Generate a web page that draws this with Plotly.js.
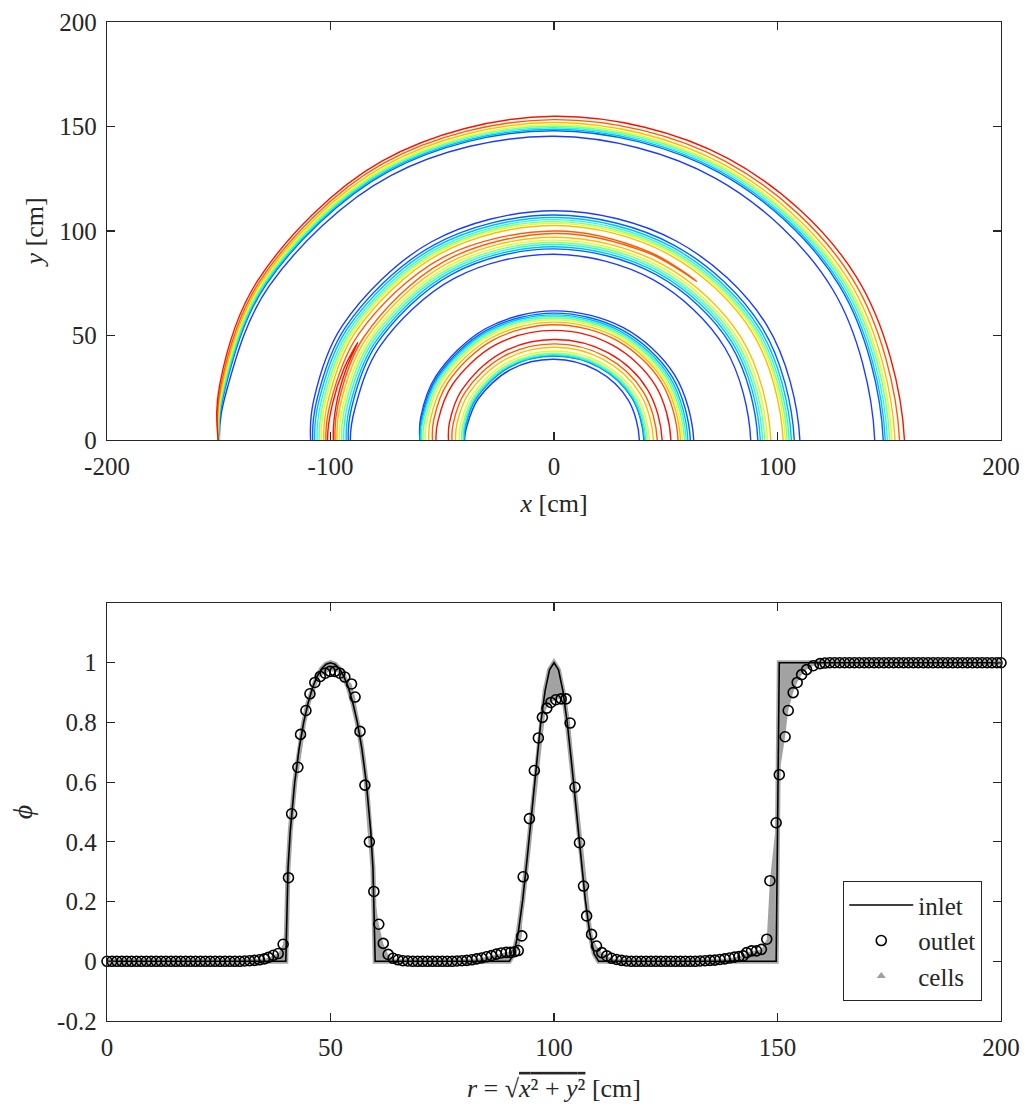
<!DOCTYPE html>
<html>
<head>
<meta charset="utf-8">
<script src="https://cdn.plot.ly/plotly-3.0.1.min.js"></script>
<style>html,body{margin:0;padding:0;background:#fff;}</style>
</head>
<body>
<div id="chart" style="width:1032px;height:1114px;"></div>
<script>
// ---------- top panel: contour lines phi(x,y) (radii in cm at the listed angles) ----------
const ringAngles = [0, 30, 60, 90, 120, 150, 170, 180];
const contourLevels = [0.03, 0.1, 0.2, 0.35, 0.5, 0.65, 0.8, 0.9, 0.96];
const levelColors = ['#1a3cff', '#0062ff', '#00bcff', '#1fffe0', '#80ff80', '#e0ff1f', '#ffbd00', '#ff5c00', '#fa1400'];

const ring1Inner = [
  [38.2, 38.3, 38.4, 38.6, 38.9, 39.2, 39.5, 40.0],
  [40.2, 40.2, 40.2, 40.15, 40.15, 40.1, 40.1, 40.05],
  [40.5, 40.45, 40.45, 40.4, 40.35, 40.3, 40.25, 40.2],
  [41.0, 40.97, 40.93, 40.9, 40.84, 40.78, 40.72, 40.63],
  [41.6, 41.58, 41.55, 41.52, 41.49, 41.45, 41.4, 41.34],
  [42.7, 42.67, 42.64, 42.6, 42.57, 42.52, 42.48, 42.4],
  [44.5, 44.45, 44.4, 44.35, 44.3, 44.2, 44.1, 44.0],
  [46.2, 46.15, 46.1, 46.0, 45.96, 45.87, 45.78, 45.64],
  [48.4, 48.3, 48.2, 48.05, 47.9, 47.7, 47.5, 47.2]
];
const ring1Outer = [
  [62.5, 62.3, 62.05, 61.8, 61.45, 61.0, 60.6, 60.0],
  [61.0, 60.9, 60.8, 60.7, 60.56, 60.38, 60.2, 59.95],
  [59.9, 59.9, 59.88, 59.87, 59.86, 59.84, 59.82, 59.8],
  [59.1, 59.12, 59.15, 59.18, 59.21, 59.26, 59.3, 59.37],
  [58.3, 58.33, 58.37, 58.4, 58.45, 58.5, 58.57, 58.66],
  [57.4, 57.42, 57.44, 57.46, 57.48, 57.52, 57.55, 57.6],
  [56.6, 56.55, 56.5, 56.4, 56.35, 56.25, 56.15, 56.0],
  [55.5, 55.4, 55.3, 55.17, 55.0, 54.83, 54.65, 54.36],
  [52.3, 52.35, 52.4, 52.45, 52.5, 52.6, 52.7, 52.8]
];
const ring2Inner = [
  [88.0, 88.27, 88.57, 88.9, 89.3, 89.85, 90.3, 91.1],
  [91.2, 91.27, 91.36, 91.45, 91.56, 91.7, 91.84, 92.05],
  [92.3, 92.36, 92.42, 92.49, 92.57, 92.68, 92.79, 92.95],
  [93.3, 93.36, 93.43, 93.51, 93.61, 93.73, 93.85, 94.03],
  [94.3, 94.36, 94.43, 94.5, 94.6, 94.71, 94.83, 95.0],
  [95.5, 95.54, 95.59, 95.64, 95.7, 95.78, 95.85, 95.97],
  [97.0, 97.0, 97.01, 97.01, 97.02, 97.03, 97.04, 97.05]
];
const ring2Outer = [
  [110.0, 109.9, 109.8, 109.68, 109.53, 109.35, 109.18, 108.9],
  [107.5, 107.54, 107.58, 107.63, 107.69, 107.77, 107.84, 107.95],
  [106.2, 106.27, 106.36, 106.45, 106.56, 106.7, 106.84, 107.05],
  [105.2, 105.27, 105.34, 105.43, 105.53, 105.66, 105.78, 105.97],
  [104.3, 104.36, 104.43, 104.5, 104.6, 104.71, 104.83, 105.0],
  [103.5, 103.55, 103.6, 103.66, 103.72, 103.81, 103.9, 104.03],
  [102.5, 102.54, 102.58, 102.63, 102.69, 102.77, 102.84, 102.95]
];
// closed (hairpin) contours of the middle ring, levels 0.9 and 0.96
const ring2HairpinLevelIndex = [7, 8];
const ring2HairpinAngles = [
  [180, 170, 150, 120, 90, 65, 50, 65, 90, 120, 150, 170, 180],
  [180, 170, 160, 152, 160, 170, 180]
];
const ring2HairpinRadii = [
  [102.05, 101.6, 101.0, 100.5, 100.0, 99.6, 99.2, 98.9, 98.8, 98.6, 98.3, 98.1, 97.95],
  [101.28, 100.6, 100.0, 99.4, 99.0, 98.9, 98.72]
];
const ring3 = [
  [143.5, 144.0, 144.6, 145.3, 146.1, 147.2, 148.2, 149.7],
  [147.3, 147.5, 147.75, 148.0, 148.3, 148.75, 149.1, 149.75],
  [148.2, 148.3, 148.5, 148.7, 148.9, 149.15, 149.4, 149.8],
  [149.2, 149.25, 149.3, 149.4, 149.5, 149.6, 149.7, 149.9],
  [150.2, 150.2, 150.15, 150.15, 150.1, 150.1, 150.05, 150.0],
  [151.2, 151.1, 151.0, 150.9, 150.75, 150.55, 150.4, 150.1],
  [152.6, 152.4, 152.15, 151.9, 151.6, 151.2, 150.8, 150.2],
  [154.6, 154.2, 153.8, 153.3, 152.8, 152.0, 151.3, 150.25],
  [156.8, 156.2, 155.6, 154.9, 154.05, 152.95, 151.9, 150.3]
];

// ---------- bottom panel: phi versus r ----------
const inletR = [0, 40, 40.5, 41, 42, 43, 44, 45, 46, 47, 48, 49, 50, 51, 52, 53, 54, 55, 56, 57, 58, 59, 59.5, 60,
  90, 91, 92, 93, 94, 95, 96, 97, 98, 99, 100, 101, 102, 103, 104, 105, 106, 107, 108, 109, 110, 149.7, 150.4, 200];
const inletPhi = [0, 0, 0.312, 0.436, 0.6, 0.714, 0.8, 0.866, 0.917, 0.954, 0.98, 0.995, 1, 0.995, 0.98, 0.954, 0.917, 0.866, 0.8, 0.714, 0.6, 0.436, 0.312, 0,
  0, 0.025, 0.095, 0.206, 0.345, 0.5, 0.655, 0.794, 0.905, 0.976, 1, 0.976, 0.905, 0.794, 0.655, 0.5, 0.345, 0.206, 0.095, 0.025, 0, 0, 1, 1];

const outletR = [
  0, 1.1, 2.2, 3.3, 4.4, 5.5, 6.6, 7.7, 8.8, 9.9, 11, 12.1, 13.2, 14.3, 15.4, 16.5, 17.6, 18.7, 19.8, 20.9, 22, 23.1, 24.2, 25.3, 26.4, 27.5, 28.6, 29.7,
  30.8, 31.9, 33, 34.1, 35.2, 36.1, 37.2, 38.3, 39.4, 40.6, 41.3, 42.7, 43.3, 44.5, 45.4, 46.5, 47.7, 48.8, 49.9, 51, 52.1, 53.2, 54.7, 55.5, 56.6, 57.7, 58.7, 59.7, 60.8, 61.8, 62.9, 64, 65.1, 66.2, 67.3,
  68.4, 69.5, 70.6, 71.7, 72.8, 73.9, 75, 76.1, 77.2,
  78.3, 79.4, 80.5, 81.6, 82.7, 83.8, 84.9, 86, 87.1, 88.2, 89.3, 90.3, 91.2, 92, 92.8, 93.1, 94.5, 95.6, 96.5, 97.4, 98.4, 99.3, 100.4, 101.6, 102.7, 103.6, 104.7, 105.7, 106.6, 107.3, 108.4, 109.5, 110.7, 111.8, 112.9, 114, 115.1, 116.2,
  117.3, 118.4, 119.5, 120.6, 121.7, 122.8, 123.9, 125, 126.1, 127.2, 128.3, 129.4, 130.5, 131.6,
  132.7, 133.8, 134.9, 136, 137.1, 138.2, 139.3, 140.4, 141.4, 142.3, 143.1, 144.2, 145.3, 146.4, 147.6, 148.3, 149.7, 150.4, 151.7, 152.4, 153.5, 154.4, 155.4, 156.5, 158, 159.5, 160.6,
  161.7, 162.8, 163.9, 165, 166.1, 167.2, 168.3, 169.4, 170.5, 171.6, 172.7, 173.8, 174.9, 176, 177.1, 178.2, 179.3, 180.4, 181.5, 182.6, 183.7, 184.8, 185.9, 187, 188.1, 189.2, 190.3, 191.4, 192.5, 193.6, 194.7, 195.8, 196.9, 198, 199.1, 200
];
const outletPhi = [
  0, 0, 0, 0, 0, 0, 0, 0, 0, 0, 0, 0, 0, 0, 0, 0, 0, 0, 0, 0, 0, 0, 0, 0, 0, 0, 0, 0,
  0.001, 0.002, 0.003, 0.005, 0.008, 0.013, 0.02, 0.026, 0.057, 0.28, 0.494, 0.65, 0.76, 0.84, 0.896, 0.934, 0.954, 0.965, 0.971, 0.971, 0.965, 0.952, 0.929, 0.885, 0.77, 0.59, 0.40, 0.234, 0.124, 0.06, 0.023, 0.01, 0.005, 0.002, 0.001,
  0, 0, 0, 0, 0, 0, 0, 0, 0,
  0.001, 0.002, 0.003, 0.005, 0.008, 0.011, 0.015, 0.019, 0.024, 0.028, 0.03, 0.03, 0.032, 0.036, 0.085, 0.283, 0.478, 0.639, 0.748, 0.817, 0.848, 0.867, 0.876, 0.879, 0.879, 0.798, 0.583, 0.397, 0.252, 0.152, 0.09, 0.051, 0.029, 0.018, 0.01, 0.006, 0.003, 0.001,
  0, 0, 0, 0, 0, 0, 0, 0, 0, 0, 0, 0, 0, 0,
  0.001, 0.002, 0.003, 0.004, 0.006, 0.008, 0.011, 0.014, 0.016, 0.018, 0.029, 0.035, 0.035, 0.04, 0.074, 0.27, 0.464, 0.625, 0.752, 0.84, 0.90, 0.934, 0.96, 0.977, 0.99, 0.997, 0.999,
  1, 1, 1, 1, 1, 1, 1, 1, 1, 1, 1, 1, 1, 1, 1, 1, 1, 1, 1, 1, 1, 1, 1, 1, 1, 1, 1, 1, 1, 1, 1, 1, 1, 1, 1, 1
];

const topXTicks = [-200, -100, 0, 100, 200];
const topXTickText = ['-200', '-100', '0', '100', '200'];
const topYTicks = [0, 50, 100, 150, 200];
const botXTicks = [0, 50, 100, 150, 200];
const botYTicks = [-0.2, 0, 0.2, 0.4, 0.6, 0.8, 1];
const botYTickText = ['-0.2', '0', '0.2', '0.4', '0.6', '0.8', '1'];

// ---------- build traces ----------
const traces = [];
const deg = Math.PI / 180;
// each contour is continued straight through the x axis (clipped there) so that the spline meets y = 0 squarely
function arc(angles, radii, color) {
  const first = angles[0], last = angles[angles.length - 1];
  const a = [first < 90 ? first - 20 : first + 20].concat(angles, [last < 90 ? last - 20 : last + 20]);
  const r = [radii[0]].concat(radii, [radii[radii.length - 1]]);
  traces.push({
    type: 'scatter', mode: 'lines', xaxis: 'x', yaxis: 'y',
    x: r.map((v, i) => v * Math.cos(a[i] * deg)),
    y: r.map((v, i) => v * Math.sin(a[i] * deg)),
    line: { color: color, width: 1.4, shape: 'spline', smoothing: 1 },
    showlegend: false, hoverinfo: 'skip'
  });
}
ring3.forEach((r, k) => arc(ringAngles, r, levelColors[k]));
ring2Outer.forEach((r, k) => arc(ringAngles, r, levelColors[k]));
ring2Inner.forEach((r, k) => arc(ringAngles, r, levelColors[k]));
ring2HairpinRadii.forEach((r, k) => arc(ring2HairpinAngles[k], r, levelColors[ring2HairpinLevelIndex[k]]));
ring1Outer.forEach((r, k) => arc(ringAngles, r, levelColors[k]));
ring1Inner.forEach((r, k) => arc(ringAngles, r, levelColors[k]));

// cells: spread between inlet and outlet profiles
traces.push({ type: 'scatter', mode: 'lines', xaxis: 'x2', yaxis: 'y2', x: inletR, y: inletPhi,
  line: { width: 0, color: 'rgba(0,0,0,0)' }, showlegend: false, hoverinfo: 'skip' });
traces.push({ type: 'scatter', mode: 'lines', xaxis: 'x2', yaxis: 'y2', x: outletR, y: outletPhi,
  fill: 'tonexty', fillcolor: '#a2a2a2', line: { width: 0, color: 'rgba(0,0,0,0)' }, showlegend: false, hoverinfo: 'skip' });
traces.push({ type: 'scatter', mode: 'lines', xaxis: 'x2', yaxis: 'y2', x: inletR, y: inletPhi,
  line: { width: 5, color: '#a6a6a6' }, showlegend: false, hoverinfo: 'skip' });
// inlet
traces.push({ type: 'scatter', mode: 'lines', name: 'inlet', xaxis: 'x2', yaxis: 'y2', x: inletR, y: inletPhi,
  line: { width: 1.6, color: '#000000' } });
// outlet
traces.push({ type: 'scatter', mode: 'markers', name: 'outlet', xaxis: 'x2', yaxis: 'y2', x: outletR, y: outletPhi,
  cliponaxis: false,
  marker: { symbol: 'circle-open', size: 10, color: '#000000', line: { width: 1.6, color: '#000000' } } });
// cells legend marker
traces.push({ type: 'scatter', mode: 'markers', name: 'cells', xaxis: 'x2', yaxis: 'y2', x: [null], y: [null],
  marker: { symbol: 'triangle-up', size: 8, color: '#a0a0a0' } });

const axisCommon = {
  ticks: 'inside', ticklen: 8, tickwidth: 1.2, tickcolor: '#262626',
  showline: true, linecolor: '#262626', linewidth: 1.3, mirror: 'ticks',
  showgrid: false, zeroline: false, tickfont: { size: 25, color: '#262626' },
  ticklabelstandoff: 4
};

const serif = "'Liberation Serif', 'DejaVu Serif', serif";
const layout = {
  width: 1032, height: 1114,
  margin: { l: 107, r: 31, t: 22, b: 93 },
  paper_bgcolor: '#ffffff', plot_bgcolor: '#ffffff',
  font: { family: serif, color: '#262626', size: 25 },
  showlegend: true,
  legend: { x: 0.9787, y: 0.02, xanchor: 'right', yanchor: 'bottom', bgcolor: '#ffffff', traceorder: 'normal',
    bordercolor: '#262626', borderwidth: 1.3, font: { family: serif, size: 25, color: '#262626' }, itemwidth: 64, tracegroupgap: 0 },
  xaxis: Object.assign({}, axisCommon, { domain: [0, 1], anchor: 'y', range: [-200, 200],
    tickvals: topXTicks, ticktext: topXTickText,
    title: { text: '<i>x</i> [cm]', font: { family: serif, size: 26 }, standoff: 14 } }),
  yaxis: Object.assign({}, axisCommon, { domain: [0.5816, 1], anchor: 'x', range: [0, 200],
    tickvals: topYTicks, ticktext: topYTicks.map(String),
    title: { text: '<i>y</i> [cm]', font: { family: serif, size: 26 }, standoff: 8 } }),
  xaxis2: Object.assign({}, axisCommon, { domain: [0, 1], anchor: 'y2', range: [0, 200],
    tickvals: botXTicks, ticktext: botXTicks.map(String),
    title: { text: '<i>r</i> = \u221A<span style="text-decoration:overline"><i>x</i>\u00B2 + <i>y</i>\u00B2</span> [cm]', font: { family: serif, size: 26 }, standoff: 18 } }),
  yaxis2: Object.assign({}, axisCommon, { domain: [0, 0.4184], anchor: 'x2', range: [-0.2, 1.2],
    tickvals: botYTicks, ticktext: botYTickText,
    title: { text: '<i>\u03D5</i>', font: { family: serif, size: 28 }, standoff: 16 } })
};

Plotly.newPlot('chart', traces, layout, { displayModeBar: false, staticPlot: true });
</script>
</body>
</html>
